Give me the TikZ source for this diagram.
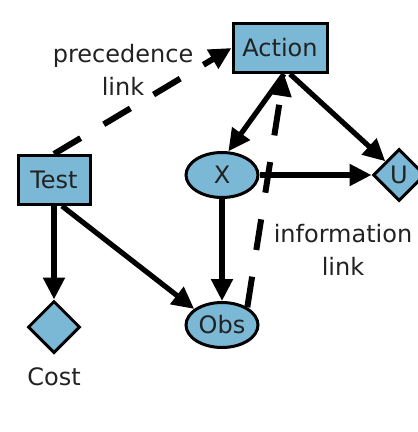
\documentclass[tikz,border=0pt]{standalone}
\usepackage{fontspec}
\setmainfont{DejaVu Sans}
\usepackage{tikz}
\usepackage{xcolor}
\usetikzlibrary{arrows.meta, shapes.geometric}
\definecolor{NodeFill}{HTML}{7AB8D6}
\definecolor{NodeInk}{HTML}{000000}
\definecolor{LabelInk}{HTML}{222222}

\begin{document}
\begin{tikzpicture}[
    x=0.5pt, y=-0.5pt,
    font=\fontsize{12}{16.5}\selectfont,
    decision/.style={
      rectangle,
      draw=NodeInk,
      line width=1.5pt,
      fill=NodeFill,
      inner sep=0pt,
      minimum width=47pt,
      minimum height=24.5pt,
      text=LabelInk,
    },
    chance/.style={
      ellipse,
      draw=NodeInk,
      line width=1.5pt,
      fill=NodeFill,
      inner sep=0pt,
      minimum width=36pt,
      minimum height=22.5pt,
      text=LabelInk,
    },
    utility/.style={
      diamond,
      draw=NodeInk,
      line width=1.5pt,
      fill=NodeFill,
      inner sep=0pt,
      minimum width=26pt,
      minimum height=26pt,
      text=LabelInk,
    },
    infolink/.style={
      line width=2.6pt,
      draw=NodeInk,
      -{Triangle[length=11pt,width=10.5pt]},
    },
    preclink/.style={
      infolink,
      line width=3pt,
      dash pattern=on 15.5pt off 13.5pt,
    },
    note/.style={
      align=center,
      text=LabelInk,
    },
  ]
    \useasboundingbox (0,0) rectangle (417,432);

    \node[decision] (action) at (280,48) {Action};
    \node[decision, minimum width=36pt] (test) at (54,180) {Test};
    \node[chance] (x) at (222,175) {X};
    \node[chance] (obs) at (222,325) {Obs};
    \node[utility] (u) at (399,175) {U};
    \node[utility] (cost) at (54,327) {};
    \node[note, anchor=north] (costlbl) at ([yshift=-3pt]cost.south) {Cost};

    \node[note] (precnote) at (123,70) {precedence\\link};
    \node[note] (infonote) at (343,250) {information\\link};

    % solid arrows
    \draw[infolink] (test.south) -- (cost.north);
    \draw[infolink] ([xshift=4pt]test.south) -- (obs.150);
    \draw[infolink] (x) -- (obs);
    \draw[infolink] (x) -- (u);
    \draw[infolink] ([xshift=2pt]action.south) -- (x.75);
    \draw[infolink] ([xshift=5pt]action.south) -- (u.north west);

    % dashed arrows
    \draw[preclink] (test.north) -- (action.west);
    \draw[preclink] (obs.35) -- ([xshift=2pt]action.south);
  \end{tikzpicture}
\end{document}
